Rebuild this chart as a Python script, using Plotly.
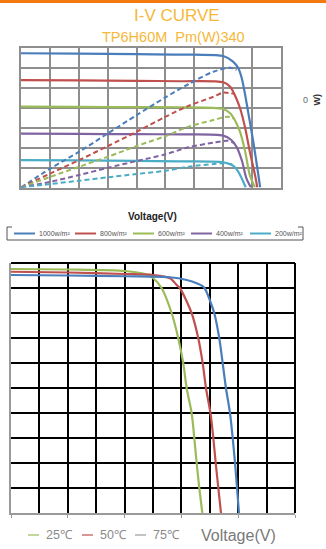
import plotly.graph_objects as go

W, H = 326, 549

# ---------------- Top chart data (I-V and P-V at irradiance levels) ----------------
irr_names = ["1000w/m²", "800w/m²", "600w/m²", "400w/m²", "200w/m²"]
irr_colors = ["#4A7EBB", "#C0504D", "#9BBB59", "#8064A2", "#4BACC6"]

iv_v_1000 = [0, 10, 20, 30, 35.0, 36.7, 37.6, 38.2, 38.8, 39.3, 40.2, 40.9, 41.4]
iv_i_1000 = [10.07, 10.04, 10.0, 9.96, 9.86, 9.44, 8.96, 8.21, 6.94, 5.69, 3.44, 1.46, 0]
iv_v_800 = [0, 10, 20, 27.5, 35.0, 36.2, 37.0, 37.9, 38.8, 39.6, 40.5, 40.9]
iv_i_800 = [8.06, 8.03, 8.0, 7.97, 7.89, 7.56, 6.94, 5.96, 4.46, 2.69, 0.94, 0]
iv_v_600 = [0, 10, 20, 27.5, 35.0, 36.2, 37.0, 37.9, 38.8, 39.6, 40.5]
iv_i_600 = [6.06, 6.04, 6.03, 6.02, 5.89, 5.57, 5.06, 4.19, 2.69, 0.94, 0]
iv_v_400 = [0, 10, 20, 27.5, 35.0, 36.4, 37.3, 38.2, 39.0, 39.8]
iv_i_400 = [4.04, 4.02, 4.0, 3.98, 3.89, 3.56, 3.06, 2.06, 0.71, 0]
iv_v_200 = [0, 10, 20, 27.5, 35.0, 36.7, 37.6, 38.2, 38.9]
iv_i_200 = [2.06, 2.03, 2.0, 1.96, 1.89, 1.64, 1.19, 0.69, 0]

pv_v_1000 = [0, 5.14, 10.09, 15.06, 20.03, 25.05, 28.96, 33.3, 36.2, 37.3]
pv_p_1000 = [0, 54.9, 102.3, 154.9, 207.1, 258.0, 295.0, 330.9, 342.3, 335.7]
pv_v_800 = [0, 5.14, 10.09, 15.06, 20.03, 25.05, 28.96, 33.3, 35.0, 37.0]
pv_p_800 = [0, 40.6, 78.6, 118.6, 159.4, 202.3, 233.0, 259.4, 270.9, 267.1]
pv_v_600 = [0, 5.14, 10.09, 15.06, 20.03, 25.05, 28.96, 33.3, 35.8, 37.0]
pv_p_600 = [0, 30.9, 59.4, 88.0, 118.6, 147.1, 173.7, 192.9, 202.3, 195.7]
pv_v_400 = [0, 5.14, 10.09, 15.06, 20.03, 25.05, 28.96, 33.3, 35.8, 37.0]
pv_p_400 = [0, 16.6, 35.7, 56.6, 75.7, 94.9, 114.9, 128.0, 133.7, 126.3]
pv_v_200 = [0, 5.14, 10.09, 15.06, 20.03, 25.05, 28.96, 33.3, 35.0, 36.7]
pv_p_200 = [0, 10.0, 19.4, 29.1, 38.6, 48.0, 59.4, 67.1, 69.1, 66.3]

# ---------------- Bottom chart data (I-V at temperatures) ----------------
temp_colors = ["#9BBB59", "#C0504D", "#4A7EBB"]
t_v_green = [0, 10.04, 20.07, 23.6, 25.0, 26.53, 28.29, 29.45, 30.33, 30.93, 31.81, 32.27, 32.69, 33.15, 33.68]
t_i_green = [9.76, 9.74, 9.68, 9.56, 9.4, 8.99, 7.99, 6.99, 5.99, 4.99, 3.99, 3.0, 2.0, 1.0, 0]
t_v_red = [0, 10.04, 20.07, 25.0, 27.99, 29.17, 29.75, 31.81, 32.97, 33.75, 34.33, 35.12, 35.62, 36.04, 36.5, 36.97]
t_i_red = [9.65, 9.62, 9.56, 9.52, 9.39, 9.12, 8.99, 7.99, 6.99, 5.99, 4.99, 3.99, 3.0, 2.0, 1.0, 0]
t_v_blue = [0, 10.04, 20.07, 27.99, 30.93, 32.69, 34.0, 35.1, 35.79, 36.67, 37.27, 37.85, 38.56, 39.03, 39.44, 39.79, 40.14]
t_i_blue = [9.52, 9.5, 9.47, 9.43, 9.32, 9.19, 9.02, 8.45, 7.99, 6.99, 5.99, 4.99, 3.99, 3.0, 2.0, 1.0, 0]

temp_labels = ["25℃", "50℃", "75℃"]
temp_legend_colors = ["#9BBB59", "#C0504D", "#9A9A9A"]

title_text = "I-V CURVE"
subtitle_text = "TP6H60M  Pm(W)340"


def px(x):
    return x / W


def py(y):
    return 1 - y / H


fig = go.Figure()

iv_sets = [(iv_v_1000, iv_i_1000), (iv_v_800, iv_i_800), (iv_v_600, iv_i_600),
           (iv_v_400, iv_i_400), (iv_v_200, iv_i_200)]
pv_sets = [(pv_v_1000, pv_p_1000), (pv_v_800, pv_p_800), (pv_v_600, pv_p_600),
           (pv_v_400, pv_p_400), (pv_v_200, pv_p_200)]

for (v, p), c, n in zip(pv_sets, irr_colors, irr_names):
    fig.add_trace(go.Scatter(x=v, y=p, mode="lines", name=n + " P",
                             line=dict(color=c, width=2, dash="5px,3px", shape="spline", smoothing=0.8),
                             xaxis="x", yaxis="y3", hoverinfo="skip"))
for (v, i), c, n in zip(iv_sets, irr_colors, irr_names):
    fig.add_trace(go.Scatter(x=v, y=i, mode="lines", name=n,
                             line=dict(color=c, width=2.2, shape="spline", smoothing=0.8),
                             xaxis="x", yaxis="y", hoverinfo="skip"))

for (v, i), c in zip([(t_v_green, t_i_green), (t_v_red, t_i_red), (t_v_blue, t_i_blue)], temp_colors):
    fig.add_trace(go.Scatter(x=v, y=i, mode="lines",
                             line=dict(color=c, width=2.2, shape="spline", smoothing=0.8),
                             xaxis="x2", yaxis="y2", hoverinfo="skip"))

grid_top = "#8E8E8E"
fig.update_layout(
    width=W, height=H, margin=dict(l=0, r=0, t=0, b=0),
    paper_bgcolor="white", plot_bgcolor="white", showlegend=False,
    xaxis=dict(domain=[px(21), px(281)], range=[0, 45], dtick=5, showticklabels=False, ticks="",
               showgrid=True, gridcolor=grid_top, gridwidth=1.5, zeroline=False,
               showline=True, linecolor=grid_top, linewidth=1.5, mirror=True, fixedrange=True),
    yaxis=dict(domain=[py(187.5), py(47.5)], range=[0, 10.5], dtick=1.5, showticklabels=False, ticks="",
               showgrid=True, gridcolor=grid_top, gridwidth=1.5, zeroline=False,
               showline=True, linecolor=grid_top, linewidth=1.5, mirror=True, fixedrange=True),
    yaxis3=dict(overlaying="y", side="right", range=[0, 400], showgrid=False, showticklabels=False,
                ticks="", zeroline=False, showline=False, fixedrange=True),
    xaxis2=dict(domain=[px(11), px(295)], range=[0, 50], dtick=10, showticklabels=False,
                ticks="outside", ticklen=3, tickcolor="#999999", tickwidth=1,
                showgrid=True, gridcolor="#000000", gridwidth=2,
                minor=dict(dtick=5, showgrid=True, gridcolor="#000000", gridwidth=2, ticks=""),
                zeroline=False, showline=True, linecolor="#9A9A9A", linewidth=2, anchor="y2",
                fixedrange=True),
    yaxis2=dict(domain=[py(513), py(263)], range=[0, 10], dtick=1, showticklabels=False, ticks="",
                showgrid=True, gridcolor="#000000", gridwidth=2, zeroline=False,
                showline=True, linecolor="#9A9A9A", linewidth=2, anchor="x2", fixedrange=True),
)

shapes = []
# orange top bar
shapes.append(dict(type="rect", xref="paper", yref="paper", x0=0, x1=1, y0=py(3), y1=1,
                   fillcolor="#F27A10", line=dict(width=0)))
# bottom chart top & right border (black)
shapes.append(dict(type="line", xref="paper", yref="paper", x0=px(11), x1=px(295), y0=py(263), y1=py(263),
                   line=dict(color="#000000", width=2)))
shapes.append(dict(type="line", xref="paper", yref="paper", x0=px(295), x1=px(295), y0=py(263), y1=py(513),
                   line=dict(color="#000000", width=2)))
# legend bracket box (top chart)
path = (f"M {px(12)},{py(227)} L {px(7)},{py(227)} L {px(7)},{py(240)} L {px(303)},{py(240)} "
        f"L {px(303)},{py(227)} L {px(298)},{py(227)}")
shapes.append(dict(type="path", xref="paper", yref="paper", path=path, line=dict(color="#555555", width=1)))

leg_x0 = [14, 75, 133, 191, 250]
for x0, c in zip(leg_x0, irr_colors):
    shapes.append(dict(type="line", xref="paper", yref="paper", x0=px(x0), x1=px(x0 + 21),
                       y0=py(233.5), y1=py(233.5), line=dict(color=c, width=2)))

bleg_x0 = [28, 82, 135]
for x0, c in zip(bleg_x0, temp_legend_colors):
    shapes.append(dict(type="line", xref="paper", yref="paper", x0=px(x0), x1=px(x0 + 11),
                       y0=py(535), y1=py(535), line=dict(color=c, width=1.2)))

fig.update_layout(shapes=shapes)

sans = "Liberation Sans, Arial, sans-serif"
ann = []
ann.append(dict(text=title_text, x=px(176.5), y=py(16), xref="paper", yref="paper", showarrow=False,
                xanchor="center", yanchor="middle", font=dict(family=sans, size=17, color="#F5B83A")))
ann.append(dict(text=subtitle_text, x=px(173), y=py(36.5), xref="paper", yref="paper", showarrow=False,
                xanchor="center", yanchor="middle", font=dict(family=sans, size=14.5, color="#F5B83A")))
ann.append(dict(text="<b>Voltage(V)</b>", x=px(152), y=py(216), xref="paper", yref="paper", showarrow=False,
                xanchor="center", yanchor="middle", font=dict(family=sans, size=10, color="#222222")))
ann.append(dict(text="0", x=px(305), y=py(100), xref="paper", yref="paper", showarrow=False,
                xanchor="center", yanchor="middle", font=dict(family=sans, size=9, color="#666666")))
ann.append(dict(text="<b>W)</b>", x=px(316.5), y=py(100), xref="paper", yref="paper", showarrow=False,
                textangle=-90, xanchor="center", yanchor="middle",
                font=dict(family=sans, size=9, color="#333333")))
for x0, n in zip(leg_x0, irr_names):
    ann.append(dict(text=n, x=px(x0 + 23), y=py(233.5), xref="paper", yref="paper", showarrow=False,
                    xanchor="left", yanchor="middle",
                    font=dict(family=sans, size=7, color="#555555")))
for x0, t in zip(bleg_x0, temp_labels):
    ann.append(dict(text=t, x=px(x0 + 16), y=py(535), xref="paper", yref="paper", showarrow=False,
                    xanchor="left", yanchor="middle", font=dict(family=sans, size=12.5, color="#8A8A8A")))
ann.append(dict(text="Voltage(V)", x=px(199), y=py(535), xref="paper", yref="paper", showarrow=False,
                xanchor="left", yanchor="middle", font=dict(family=sans, size=16, color="#7A7A7A")))
fig.update_layout(annotations=ann)

fig.write_html("out.html", config={"displayModeBar": False},
               post_script="document.body.style.margin='0';document.body.style.overflow='hidden';")
